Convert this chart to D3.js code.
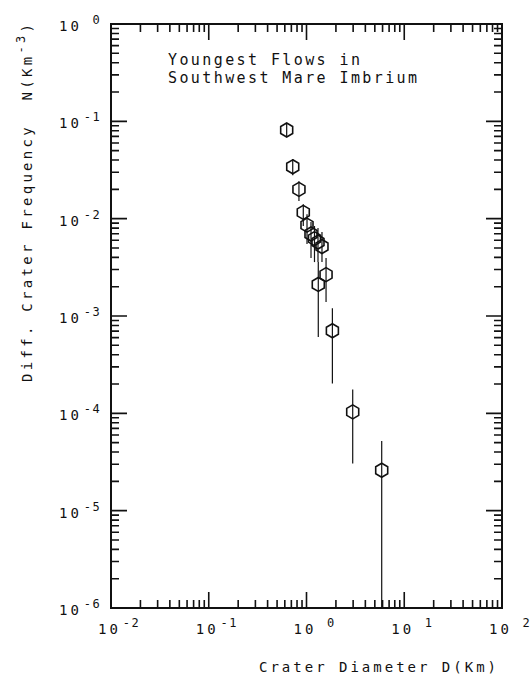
<!DOCTYPE html>
<html>
<head>
<meta charset="utf-8">
<script src="https://cdn.jsdelivr.net/npm/d3@7"></script>
<style>
  body { margin: 0; background: #fff; }
  svg { display: block; }
  text { font-family: "DejaVu Sans Mono", monospace; fill: #111; }
</style>
</head>
<body>
<svg id="chart" width="532" height="677"></svg>
<script>
//
// Data
//
const diameter = [0.627, 0.723, 0.837, 0.927, 1.012, 1.112, 1.207, 1.311, 1.44, 1.585, 1.32, 1.84, 2.97, 5.88];
const frequency = [0.0814, 0.0341, 0.020, 0.0116, 0.00859, 0.00695, 0.00624, 0.00575, 0.00517, 0.00266, 0.00211, 0.000705, 1.036e-4, 2.6e-5];
const errHigh = [0.096, 0.041, 0.0243, 0.0141, 0.0111, 0.00923, 0.0084, 0.0080, 0.00728, 0.00394, 0.00358, 0.0012, 1.76e-4, 5.2e-5];
const errLow = [0.069, 0.028, 0.0152, 0.0084, 0.00548, 0.00394, 0.00358, 0.00358, 0.00358, 0.00139, 6.07e-4, 2.03e-4, 3.05e-5, 1e-7];
const xExponents = [-2, -1, 0, 1, 2];
const yExponents = [-6, -5, -4, -3, -2, -1, 0];
const titleLines = ["Youngest Flows in", "Southwest Mare Imbrium"];

//
// Layout
//
const plotLeft = 111, plotRight = 502, plotTop = 24, plotBottom = 608;
const majorLen = 16, minorLen = 8;

const svg = d3.select('#chart');
const x = d3.scaleLog().domain([1e-2, 1e2]).range([plotLeft, plotRight]);
const y = d3.scaleLog().domain([1e-6, 1]).range([plotBottom, plotTop]);
// error bars running past the frame stop at it
const yClamped = y.copy().clamp(true);

// major ticks at each decade, minor ticks at 2..9
function logTicks(exps) {
  const out = [];
  exps.forEach((e, i) => {
    out.push({v: Math.pow(10, e), len: majorLen});
    if (i < exps.length - 1) {
      for (let k = 2; k <= 9; k++) out.push({v: k * Math.pow(10, e), len: minorLen});
    }
  });
  return out;
}
const xTicks = logTicks(xExponents);
const yTicks = logTicks(yExponents);

// power-of-ten labels
function powerLabel(sel, e) {
  sel.append('tspan').text('10');
  sel.append('tspan').attr('dy', -7).attr('dx', 2)
    .attr('font-size', 12).attr('letter-spacing', 1.5)
    .text((e < 0 ? '-' : '\u00a0') + Math.abs(e));
}
svg.append('g').selectAll('text').data(xExponents).join('text')
  .attr('x', d => x(Math.pow(10, d)) - 13)
  .attr('y', 634)
  .attr('font-size', 14).attr('letter-spacing', 3)
  .each(function (d) { powerLabel(d3.select(this), d); });

svg.append('g').selectAll('text').data(yExponents).join('text')
  .attr('x', 59)
  .attr('y', d => y(Math.pow(10, d)) + 7)
  .attr('font-size', 14).attr('letter-spacing', 3)
  .each(function (d) { powerLabel(d3.select(this), d); });

// axis titles
svg.append('text')
  .attr('x', 259).attr('y', 672)
  .attr('font-size', 14).attr('letter-spacing', 3)
  .text('Crater Diameter D(Km)');

const yTitle = svg.append('text')
  .attr('transform', 'translate(32,382) rotate(-90)')
  .attr('font-size', 14).attr('letter-spacing', 3.3);
yTitle.append('tspan').text('Diff. Crater Frequency\u00a0\u00a0N(Km');
yTitle.append('tspan').attr('dy', -7).attr('font-size', 12).text('-3');
yTitle.append('tspan').attr('dy', 7).text(')');

// in-plot title
svg.append('g').selectAll('text').data(titleLines).join('text')
  .attr('x', 168).attr('y', (d, i) => 65 + i * 18)
  .attr('font-size', 15).attr('letter-spacing', 2.4)
  .text(d => d);

//
// Data marks
//
const marks = svg.append('g');

marks.selectAll('line.err').data(diameter).join('line')
  .attr('class', 'err')
  .attr('x1', d => x(d)).attr('x2', d => x(d))
  .attr('y1', (d, i) => yClamped(errHigh[i]))
  .attr('y2', (d, i) => yClamped(errLow[i]))
  .attr('stroke', '#111').attr('stroke-width', 1.2);

const hexagon = 'M0,-7L6,-3.5L6,3.5L0,7L-6,3.5L-6,-3.5Z';
marks.selectAll('path.pt').data(diameter).join('path')
  .attr('class', 'pt')
  .attr('d', hexagon)
  .attr('transform', (d, i) => `translate(${x(d)},${y(frequency[i])})`)
  .attr('fill', 'none')
  .attr('stroke', '#111').attr('stroke-width', 1.6);

//
// Frame and ticks, drawn last so nothing covers them
//
svg.append('rect')
  .attr('x', plotLeft).attr('y', plotTop)
  .attr('width', plotRight - plotLeft).attr('height', plotBottom - plotTop)
  .attr('fill', 'none').attr('stroke', '#111').attr('stroke-width', 2);

// ticks point inward on all four sides, one path per side
function tickPath(ticks, scale, pos, dir, vertical) {
  const p = d3.path();
  ticks.forEach(t => {
    const c = scale(t.v);
    if (vertical) { p.moveTo(c, pos); p.lineTo(c, pos + dir * t.len); }
    else { p.moveTo(pos, c); p.lineTo(pos + dir * t.len, c); }
  });
  return p.toString();
}
const tickSides = [
  tickPath(xTicks, x, plotBottom, -1, true),
  tickPath(xTicks, x, plotTop, 1, true),
  tickPath(yTicks, y, plotLeft, 1, false),
  tickPath(yTicks, y, plotRight, -1, false)
];
svg.append('g').selectAll('path').data(tickSides).join('path')
  .attr('d', d => d)
  .attr('fill', 'none')
  .attr('stroke', '#111')
  .attr('stroke-width', 1.6);
</script>
</body>
</html>
